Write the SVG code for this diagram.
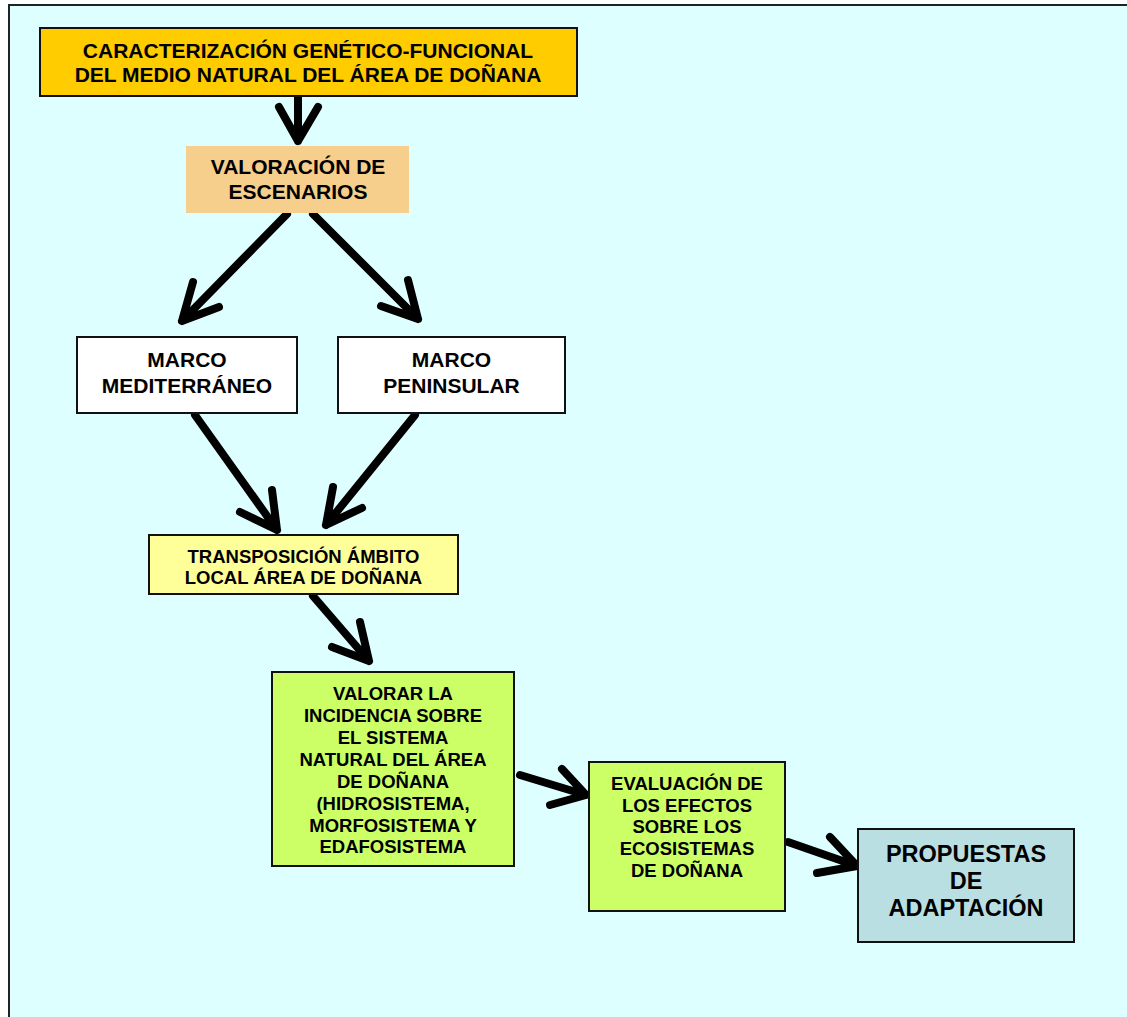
<svg xmlns="http://www.w3.org/2000/svg" width="1127" height="1017" viewBox="0 0 1127 1017">
<defs>
<style>
text{font-family:"Liberation Sans",Arial,sans-serif;font-weight:bold;fill:#000;text-anchor:middle}
.t21{font-size:21px}
.t18{font-size:18.5px}
.t23{font-size:23.5px}
.box{stroke:#111;stroke-width:2}
.arr{fill:none;stroke:#000;stroke-width:8;stroke-linecap:round;stroke-linejoin:round}
</style>
</defs>
<rect x="0" y="0" width="1127" height="1017" fill="#fff"/>
<rect x="9" y="5" width="1130" height="1030" fill="#DDFFFF" stroke="#222" stroke-width="2"/>
<g id="connectors">
<path class="arr" d="M298,97 L298,141 M279,107 L298,141 L318,107"/>
<path class="arr" d="M287,214 L182,321 M193,282 L182,321 L219,307"/>
<path class="arr" d="M313,214 L418,319 M408,280 L418,319 L381,306"/>
<path class="arr" d="M195,415 L277,530 M272,490 L277,530 L240,512"/>
<path class="arr" d="M415,415 L326,525 M333,487 L326,525 L362,508"/>
<path class="arr" d="M313,596 L369,661 M360,622 L369,661 L332,647"/>
<path class="arr" d="M520,775 L586,795 M562,769 L586,795 L550,805"/>
<path class="arr" d="M788,842 L857,866 M830,837 L857,866 L817,873"/>
</g>
<g id="caracterizacion">
<rect class="box" x="40" y="28" width="537" height="68" fill="#FFCC00"/>
<text class="t21" x="308" y="58">CARACTERIZACIÓN GENÉTICO-FUNCIONAL</text>
<text class="t21" x="308" y="82">DEL MEDIO NATURAL DEL ÁREA DE DOÑANA</text>
</g>
<g id="valoracion">
<rect x="186" y="146" width="223" height="67" fill="#F7CF8C"/>
<text class="t21" x="298" y="174">VALORACIÓN DE</text>
<text class="t21" x="298" y="199">ESCENARIOS</text>
</g>
<g id="mediterraneo">
<rect class="box" x="77" y="337" width="220" height="76" fill="#fff"/>
<text class="t21" x="187" y="367">MARCO</text>
<text class="t21" x="187" y="393">MEDITERRÁNEO</text>
</g>
<g id="peninsular">
<rect class="box" x="338" y="337" width="227" height="76" fill="#fff"/>
<text class="t21" x="451.5" y="367">MARCO</text>
<text class="t21" x="451.5" y="393">PENINSULAR</text>
</g>
<g id="transposicion">
<rect class="box" x="149" y="535" width="309" height="59" fill="#FFFF99"/>
<text class="t18" x="303.5" y="563">TRANSPOSICIÓN ÁMBITO</text>
<text class="t18" x="303.5" y="584">LOCAL ÁREA DE DOÑANA</text>
</g>
<g id="valorar">
<rect class="box" x="272" y="672" width="242" height="194" fill="#CCFF66"/>
<text class="t18" x="393" y="700">VALORAR LA</text>
<text class="t18" x="393" y="722">INCIDENCIA SOBRE</text>
<text class="t18" x="393" y="744">EL SISTEMA</text>
<text class="t18" x="393" y="766">NATURAL DEL ÁREA</text>
<text class="t18" x="393" y="788">DE DOÑANA</text>
<text class="t18" x="393" y="810">(HIDROSISTEMA,</text>
<text class="t18" x="393" y="832">MORFOSISTEMA Y</text>
<text class="t18" x="393" y="853">EDAFOSISTEMA</text>
</g>
<g id="evaluacion">
<rect class="box" x="589" y="762" width="196" height="149" fill="#CCFF66"/>
<text class="t18" x="687" y="790">EVALUACIÓN DE</text>
<text class="t18" x="687" y="812">LOS EFECTOS</text>
<text class="t18" x="687" y="833">SOBRE LOS</text>
<text class="t18" x="687" y="855">ECOSISTEMAS</text>
<text class="t18" x="687" y="877">DE DOÑANA</text>
</g>
<g id="propuestas">
<rect class="box" x="858" y="829" width="216" height="113" fill="#BADFE2"/>
<text class="t23" x="966" y="862">PROPUESTAS</text>
<text class="t23" x="966" y="889">DE</text>
<text class="t23" x="966" y="916">ADAPTACIÓN</text>
</g>
</svg>
